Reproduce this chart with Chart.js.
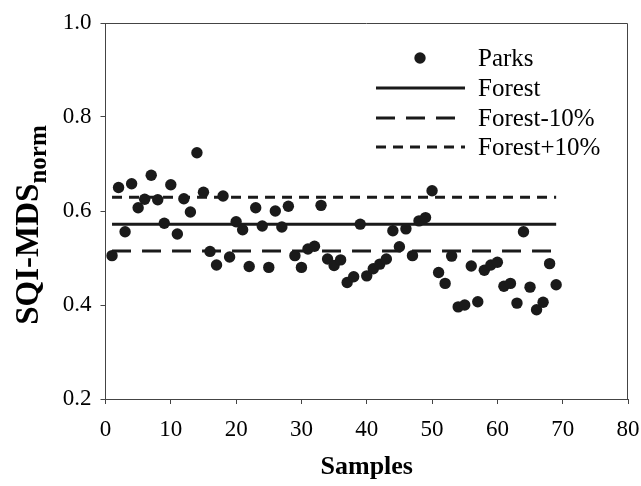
<!DOCTYPE html>
<html>
<head>
<meta charset="utf-8">
<script src="https://cdn.jsdelivr.net/npm/chart.js@4/dist/chart.umd.min.js"></script>
<style>
  html, body { margin: 0; padding: 0; background: #fff; }
  #wrap { width: 641px; height: 486px; }
</style>
</head>
<body>
<div id="wrap"><canvas id="sqiChart" width="641" height="486"></canvas></div>
<script>
// sample numbers 1..69
const samples = [
  1, 2, 3, 4, 5, 6, 7, 8, 9, 10, 11, 12, 13, 14, 15, 16, 17, 18, 19, 20,
  21, 22, 23, 24, 25, 26, 27, 28, 29, 30, 31, 32, 33, 34, 35, 36, 37, 38, 39, 40,
  41, 42, 43, 44, 45, 46, 47, 48, 49, 50, 51, 52, 53, 54, 55, 56, 57, 58, 59, 60,
  61, 62, 63, 64, 65, 66, 67, 68, 69
];
// SQI-MDS norm values of the parks
const parks = [
  0.505, 0.650, 0.556, 0.658, 0.607, 0.625, 0.676, 0.624, 0.574, 0.656,
  0.551, 0.626, 0.598, 0.724, 0.640, 0.514, 0.485, 0.632, 0.502, 0.577,
  0.560, 0.482, 0.607, 0.568, 0.480, 0.600, 0.566, 0.610, 0.505, 0.480,
  0.519, 0.525, 0.612, 0.498, 0.484, 0.496, 0.448, 0.460, 0.572, 0.462,
  0.477, 0.487, 0.498, 0.558, 0.524, 0.562, 0.505, 0.579, 0.586, 0.643,
  0.469, 0.446, 0.504, 0.396, 0.400, 0.483, 0.407, 0.474, 0.485, 0.491,
  0.440, 0.446, 0.404, 0.556, 0.438, 0.390, 0.406, 0.488, 0.443
];
// reference lines (start / end sample)
const lineX = [1, 69];
const forest = [0.572, 0.572];
const forestMinus = [0.515, 0.515];
const forestPlus = [0.629, 0.629];

const xTicks = [0, 10, 20, 30, 40, 50, 60, 70, 80];
const yTicks = [0.2, 0.4, 0.6, 0.8, 1.0];

const FONT = "'Liberation Serif', 'Times New Roman', serif";
const INK = "#1a1a1a";

const toPoints = (xs, ys) => xs.map((x, i) => ({ x: x, y: ys[i] }));

// box round the plot area (top and right sides)
const frame = {
    id: "frame",
    afterDraw(chart) {
        const { ctx, chartArea: a } = chart;
        ctx.save();
        ctx.strokeStyle = "#444";
        ctx.lineWidth = 1;
        ctx.beginPath();
        ctx.moveTo(a.left, a.top + 0.5);
        ctx.lineTo(a.right - 0.5, a.top + 0.5);
        ctx.lineTo(a.right - 0.5, a.bottom);
        ctx.stroke();
        ctx.restore();
    }
};

// y title with subscript
const yTitle = {
    id: "yTitle",
    afterDraw(chart) {
        const ctx = chart.ctx;
        const main = "SQI-MDS";
        const sub = "norm";
        ctx.save();
        ctx.fillStyle = "#000";
        ctx.font = "bold 33px " + FONT;
        const w1 = ctx.measureText(main).width;
        ctx.font = "bold 25px " + FONT;
        const w2 = ctx.measureText(sub).width;
        const total = w1 + w2;
        const cy = 225;
        ctx.translate(38, cy + total / 2);
        ctx.rotate(-Math.PI / 2);
        ctx.textBaseline = "alphabetic";
        ctx.textAlign = "left";
        ctx.font = "bold 33px " + FONT;
        ctx.fillText(main, 0, 0);
        ctx.font = "bold 25px " + FONT;
        ctx.fillText(sub, w1, 8);
        ctx.restore();
    }
};

// legend drawn in the upper right of the plot
const legendBox = {
    id: "legendBox",
    afterDraw(chart) {
        const ctx = chart.ctx;
        const ds = chart.data.datasets;
        const rows = [58, 88, 118, 147];
        ctx.save();
        ctx.font = "25px " + FONT;
        ctx.textBaseline = "middle";
        ds.forEach((d, i) => {
            const y = rows[i];
            if (i === 0) {
                ctx.beginPath();
                ctx.fillStyle = INK;
                ctx.arc(420, y, 5.7, 0, Math.PI * 2);
                ctx.fill();
            } else {
                ctx.beginPath();
                ctx.strokeStyle = INK;
                ctx.lineWidth = 3;
                ctx.setLineDash(d.borderDash || []);
                ctx.moveTo(376, y);
                ctx.lineTo(465, y);
                ctx.stroke();
                ctx.setLineDash([]);
            }
            ctx.fillStyle = "#000";
            ctx.fillText(d.label, 478, y + 1);
        });
        ctx.restore();
    }
};

const refLine = (label, ys, dash) => ({
    type: "line",
    label: label,
    data: toPoints(lineX, ys),
    showLine: true,
    borderColor: INK,
    borderWidth: 3,
    borderDash: dash,
    pointRadius: 0,
    fill: false
});

const ctx = document.getElementById("sqiChart").getContext("2d");
new Chart(ctx, {
    type: "scatter",
    data: {
        datasets: [
            {
                label: "Parks",
                data: toPoints(samples, parks),
                backgroundColor: INK,
                borderWidth: 0,
                pointRadius: 5.7,
                pointHoverRadius: 5.7
            },
            refLine("Forest", forest, []),
            refLine("Forest-10%", forestMinus, [19, 11]),
            refLine("Forest+10%", forestPlus, [10, 7])
        ]
    },
    options: {
        responsive: false,
        animation: false,
        events: [],
        layout: { padding: { top: 23, right: 13, left: 0, bottom: 0 } },
        plugins: {
            legend: { display: false },
            tooltip: { enabled: false }
        },
        scales: {
            x: {
                type: "linear",
                min: 0,
                max: 80,
                afterFit: (s) => {
                    s.height = 87;
                    s.paddingLeft = 0;
                    s.paddingRight = 0;
                },
                afterBuildTicks: (s) => { s.ticks = xTicks.map((v) => ({ value: v })); },
                border: { display: true, color: "#444", width: 1 },
                grid: { display: true, drawOnChartArea: false, drawTicks: true, tickLength: 5, color: "#444" },
                ticks: { color: "#000", padding: 12, font: { family: FONT, size: 23 }, maxRotation: 0 },
                title: {
                    display: true,
                    text: "Samples",
                    color: "#000",
                    font: { family: FONT, size: 26, weight: "bold" },
                    padding: { top: 0, bottom: 3 }
                }
            },
            y: {
                min: 0.2,
                max: 1.0,
                afterFit: (s) => {
                    s.width = 105.5;
                    s.paddingTop = 0;
                    s.paddingBottom = 0;
                },
                afterBuildTicks: (s) => { s.ticks = yTicks.map((v) => ({ value: v })); },
                border: { display: true, color: "#444", width: 1 },
                grid: { display: true, drawOnChartArea: false, drawTicks: true, tickLength: 5, color: "#444" },
                ticks: {
                    color: "#000",
                    padding: 9,
                    font: { family: FONT, size: 23 },
                    callback: (v) => Number(v).toFixed(1)
                }
            }
        }
    },
    plugins: [frame, yTitle, legendBox]
});
</script>
</body>
</html>
